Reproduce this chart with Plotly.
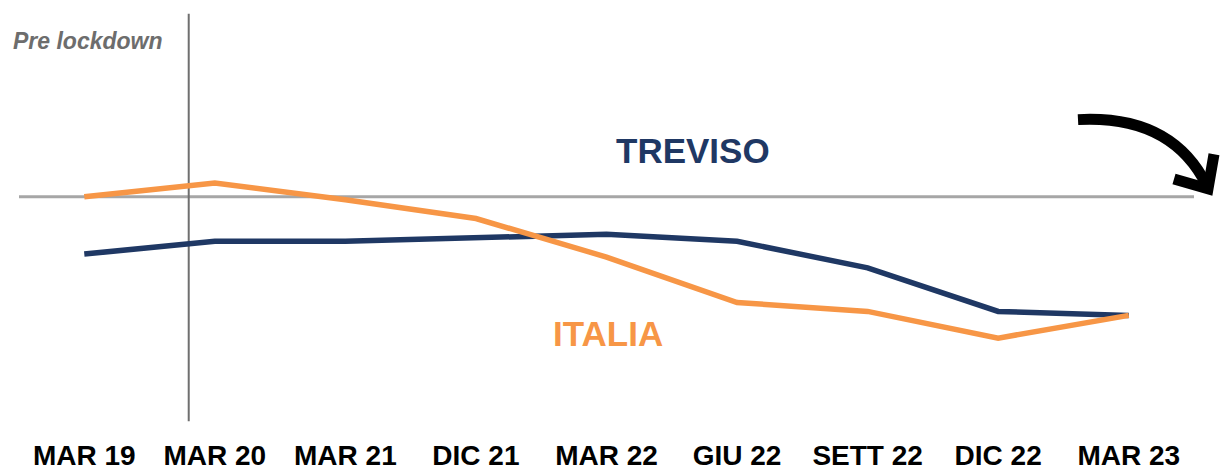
import plotly.graph_objects as go

categories = ["MAR 19", "MAR 20", "MAR 21", "DIC 21", "MAR 22", "GIU 22", "SETT 22", "DIC 22", "MAR 23"]
italia = [0.0, 1.4, -0.3, -2.2, -6.1, -10.7, -11.6, -14.3, -12.0]
treviso = [-5.8, -4.5, -4.5, -4.2, -3.8, -4.5, -7.2, -11.6, -12.0]

W, H = 1220, 471
L, R, T, B = 19, 26, 0, 30
PW, PH = W - L - R, H - T - B
BASE_PX = 199
YR = [-(H - B - BASE_PX) / 10, BASE_PX / 10]

def px(x):
    return (x - L) / PW

def py(y):
    return (H - B - y) / PH

fig = go.Figure()
fig.add_trace(go.Scatter(x=list(range(len(categories))), y=treviso, mode="lines",
                         line=dict(color="#1F3864", width=5.5), name="TREVISO"))
fig.add_trace(go.Scatter(x=list(range(len(categories))), y=italia, mode="lines",
                         line=dict(color="#F79646", width=5.5), name="ITALIA"))

# baseline
fig.add_shape(type="line", xref="paper", yref="y", x0=0, x1=1, y0=0, y1=0,
              line=dict(color="#A6A6A6", width=3), layer="below")
# lockdown vertical line
fig.add_shape(type="line", xref="x", yref="paper", x0=0.8, x1=0.8, y0=py(426), y1=py(14),
              line=dict(color="#6F6F6F", width=2), layer="below")

# curved arrow
path = f"M {px(1078)},{py(121)} Q {px(1172)},{py(116)} {px(1207)},{py(188)}"
fig.add_shape(type="path", xref="paper", yref="paper", path=path,
              line=dict(color="black", width=11))
head = f"M {px(1174)},{py(181)} L {px(1208)},{py(191)} L {px(1214)},{py(156)}"
fig.add_shape(type="path", xref="paper", yref="paper", path=head,
              line=dict(color="black", width=11))

fig.add_annotation(x=px(693), y=py(152), xref="paper", yref="paper", text="TREVISO",
                   xanchor="center", yanchor="middle", showarrow=False,
                   font=dict(family="Liberation Sans", size=35, color="#1F3864", weight="bold"))
fig.add_annotation(x=px(608), y=py(337), xref="paper", yref="paper", text="ITALIA",
                   xanchor="center", yanchor="middle", showarrow=False,
                   font=dict(family="Liberation Sans", size=35, color="#F79646", weight="bold"))
fig.add_annotation(x=px(11), y=py(41), xref="paper", yref="paper", text="<b><i>Pre lockdown</i></b>",
                   xanchor="left", yanchor="middle", showarrow=False,
                   font=dict(family="Liberation Sans", size=23, color="#6D6D6D"))

fig.update_layout(
    width=W, height=H, margin=dict(l=L, r=R, t=T, b=B),
    paper_bgcolor="white", plot_bgcolor="white", showlegend=False,
    xaxis=dict(tickmode="array", tickvals=list(range(len(categories))), ticktext=categories,
               range=[-0.5, 8.5], showgrid=False, zeroline=False, showline=False,
               tickfont=dict(family="Liberation Sans", size=28, color="black", weight="bold")),
    yaxis=dict(range=YR, visible=False, showgrid=False, zeroline=False),
)
fig.write_html("out.html", config={"displayModeBar": False},
               post_script="document.body.style.margin='0';document.body.style.overflow='hidden';")
